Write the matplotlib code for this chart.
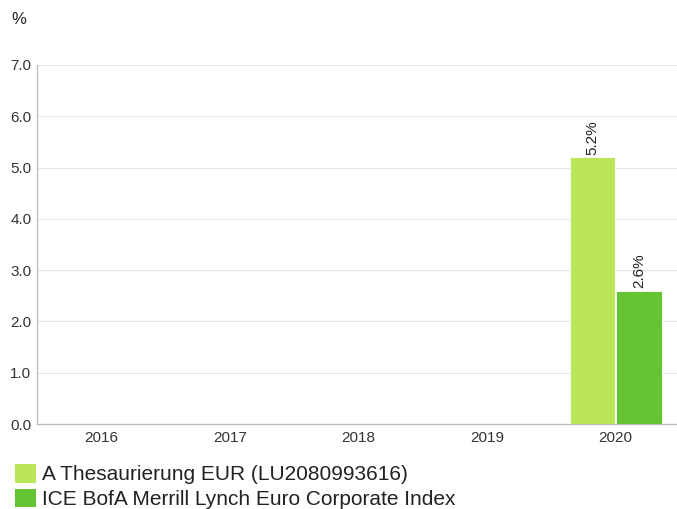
import matplotlib.pyplot as plt
import numpy as np
from matplotlib.patches import Patch

plt.rcParams['font.family'] = ['Liberation Sans', 'DejaVu Sans']

years = ["2016", "2017", "2018", "2019", "2020"]
fund = [np.nan, np.nan, np.nan, np.nan, 5.2]
index = [np.nan, np.nan, np.nan, np.nan, 2.6]
fund_name = "A Thesaurierung EUR (LU2080993616)"
index_name = "ICE BofA Merrill Lynch Euro Corporate Index"
yticks = [0.0, 1.0, 2.0, 3.0, 4.0, 5.0, 6.0, 7.0]

fund_color = "#BCE65A"
index_color = "#66C434"

fig = plt.figure(figsize=(6.77, 5.09), dpi=100)
ax = fig.add_axes([37 / 677, 1 - 424 / 509, 643 / 677, 359 / 509])

x = np.arange(len(years))
w = 0.355
b1 = ax.bar(x - w / 2 - 0.003, fund, w, color=fund_color, edgecolor="white", linewidth=0.6, zorder=3)
b2 = ax.bar(x + w / 2 + 0.003, index, w, color=index_color, edgecolor="white", linewidth=0.6, zorder=3)

for bars, vals in ((b1, fund), (b2, index)):
	for bar, v in zip(bars, vals):
		if np.isnan(v):
			continue
		ax.annotate(f"{v:.1f}%", xy=(bar.get_x() + bar.get_width() / 2, v),
			xytext=(0, 2), textcoords="offset points", rotation=90,
			ha="center", va="bottom", fontsize=11, color="#222222")

ax.set_xlim(-0.5, len(years) - 0.5)
ax.set_ylim(0, 7)
ax.set_xticks(x)
ax.set_xticklabels(years)
ax.set_yticks(yticks)
ax.set_yticklabels([f"{t:.1f}" for t in yticks])
ax.tick_params(axis="both", length=0, labelsize=11, colors="#333333")
ax.tick_params(axis="x", pad=5)
ax.tick_params(axis="y", pad=4)
ax.grid(axis="y", color="#e6e6e6", linewidth=0.8, zorder=0)
for s in ("top", "right"):
	ax.spines[s].set_visible(False)
for s in ("left", "bottom"):
	ax.spines[s].set_color("#bbbbbb")
	ax.spines[s].set_linewidth(0.9)

fig.text(11 / 677, 1 - 20 / 509, "%", fontsize=12, color="#222222", va="center", ha="left")

handles = [Patch(facecolor=fund_color, label=fund_name), Patch(facecolor=index_color, label=index_name)]
fig.legend(handles=handles, loc="lower left", bbox_to_anchor=(15 / 677, 0.0), frameon=False,
	fontsize=15, handlelength=1.0, handleheight=1.0, handletextpad=0.3, labelspacing=0.2,
	borderaxespad=0, borderpad=0, labelcolor="#222222")

fig.savefig("out.png", dpi=100)
